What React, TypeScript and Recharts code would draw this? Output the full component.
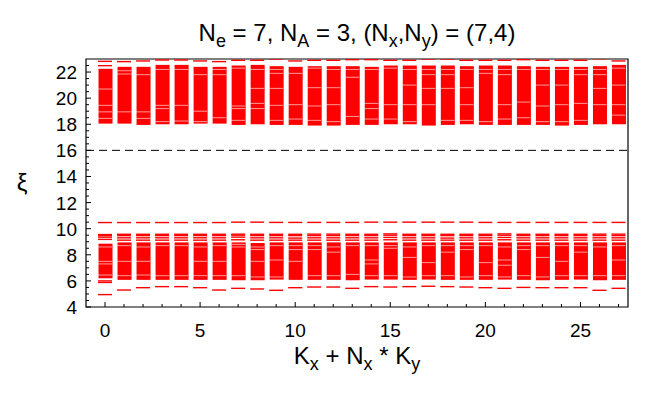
import React from 'react';
import { ComposedChart, Bar, Scatter, XAxis, YAxis, ReferenceLine, ReferenceArea } from 'recharts';

// momentum sectors K = Kx + Nx * Ky
const kValues = [0, 1, 2, 3, 4, 5, 6, 7, 8, 9, 10, 11, 12, 13, 14, 15, 16, 17, 18, 19, 20, 21, 22, 23, 24, 25, 26, 27];

// upper (dense) part of the spectrum
const upperLo = [18.05, 18.05, 17.95, 18.0, 18.0, 18.05, 18.05, 17.95, 18.0, 17.95, 17.95, 17.9, 17.9, 17.95, 17.95, 18.0, 18.0, 17.9, 17.95, 18.0, 17.95, 17.95, 17.95, 17.95, 17.9, 17.95, 18.0, 18.0];
const upperHi = [22.25, 22.4, 22.4, 22.55, 22.55, 22.4, 22.4, 22.5, 22.55, 22.45, 22.4, 22.45, 22.45, 22.45, 22.4, 22.5, 22.5, 22.5, 22.5, 22.45, 22.5, 22.5, 22.45, 22.4, 22.4, 22.4, 22.45, 22.55];
const upperTop = [22.82, 22.8, 22.85, 22.92, 22.92, 22.85, 22.8, 22.9, 22.9, 23.0, 22.85, 22.9, 22.9, 22.95, 22.95, 22.9, 22.9, 23.0, 23.0, 22.9, 22.9, 22.9, 22.95, 22.9, 22.9, 22.9, 23.02, 22.85];

// lower (low-lying) part
const isolated = [10.47, 10.47, 10.47, 10.47, 10.47, 10.47, 10.47, 10.5, 10.5, 10.48, 10.48, 10.48, 10.48, 10.48, 10.5, 10.5, 10.5, 10.5, 10.5, 10.5, 10.48, 10.48, 10.48, 10.48, 10.48, 10.48, 10.48, 10.48];
const capA = [9.55, 9.57, 9.57, 9.57, 9.57, 9.57, 9.57, 9.58, 9.57, 9.57, 9.57, 9.58, 9.58, 9.57, 9.57, 9.6, 9.57, 9.57, 9.57, 9.57, 9.57, 9.6, 9.57, 9.57, 9.57, 9.57, 9.58, 9.58];
const capB = [9.47, 9.47, 9.47, 9.47, 9.47, 9.47, 9.47, 9.5, 9.47, 9.47, 9.47, 9.47, 9.47, 9.47, 9.47, 9.5, 9.47, 9.47, 9.47, 9.47, 9.47, 9.5, 9.47, 9.47, 9.47, 9.47, 9.47, 9.47];
const capC = [9.35, 9.3, 9.3, 9.3, 9.3, 9.3, 9.3, 9.35, 9.3, 9.3, 9.28, 9.3, 9.3, 9.3, 9.3, 9.33, 9.3, 9.3, 9.28, 9.3, 9.3, 9.33, 9.3, 9.3, 9.3, 9.3, 9.3, 9.3];
const midLine = [9.18, 9.12, 9.12, 9.12, 9.12, 9.12, 9.12, 9.15, 9.12, 9.12, 9.12, 9.12, 9.12, 9.12, 9.12, 9.15, 9.12, 9.12, 9.12, 9.12, 9.12, 9.15, 9.12, 9.12, 9.12, 9.12, 9.12, 9.12];
const lowerHi = [8.85, 8.95, 8.95, 8.95, 8.95, 8.95, 8.95, 8.95, 8.9, 8.95, 8.95, 8.95, 8.95, 8.95, 8.95, 8.95, 8.95, 8.95, 8.95, 8.95, 8.95, 8.95, 8.95, 8.95, 8.95, 8.95, 8.95, 8.95];
const lowerLo = [6.2, 6.08, 6.08, 6.08, 6.08, 6.08, 6.08, 6.05, 6.05, 6.1, 6.08, 6.08, 6.08, 6.05, 6.1, 6.1, 6.08, 6.1, 6.08, 6.08, 6.08, 6.1, 6.08, 6.05, 6.08, 6.1, 6.05, 6.08];
const lowerMin = [4.95, 5.3, 5.48, 5.56, 5.56, 5.48, 5.3, 5.43, 5.38, 5.28, 5.48, 5.53, 5.53, 5.43, 5.56, 5.53, 5.56, 5.59, 5.56, 5.53, 5.48, 5.43, 5.5, 5.48, 5.48, 5.48, 5.28, 5.43];

// a few extra single levels of sector 0
const extraK = [0, 0, 0];
const extraE = [22.49, 6.0, 5.88];

// thin gaps visible inside the dense blocks, per sector
const gapsUpper = [
  [20.7, 19.45, 18.95, 18.45], [22.1, 21.85, 18.95], [21.8, 18.95, 18.45], [22.2, 19.45, 19.2, 18.2],
  [22.2, 19.45, 18.25], [21.8, 19.0, 18.2], [22.2, 21.8, 18.5], [22.3, 19.4, 19.2, 18.3],
  [22.2, 20.75, 19.6, 19.2], [22.2, 21.9, 20.75, 19.45, 18.3], [21.9, 19.5, 18.4], [22.3, 20.8, 19.4, 18.3],
  [22.2, 20.8, 19.5, 18.2], [22.2, 21.6, 18.6], [22.2, 19.6, 19.2, 18.4], [22.3, 19.5, 18.4],
  [22.2, 21.0, 19.5, 18.2], [22.2, 21.8, 20.75, 19.5], [22.2, 21.8, 20.75, 18.3], [22.2, 20.8, 19.5, 18.3],
  [22.2, 21.9, 18.2], [22.2, 21.8, 19.5, 18.4], [22.2, 19.7, 18.5], [22.2, 21.0, 19.4, 18.2],
  [22.2, 21.0, 19.5, 18.2], [22.2, 21.8, 19.6, 18.3], [22.2, 21.8, 20.75, 19.5], [22.3, 21.0, 19.5, 18.7],
];
const gapsLower = [
  [8.6, 7.5, 7.3, 6.45], [8.7, 7.5, 6.4], [8.6, 7.5, 6.45], [8.7, 6.4], [8.7, 6.4], [8.6, 7.5, 6.4], [8.7, 7.5, 6.4],
  [8.8, 8.6, 6.4], [8.6, 8.4, 7.5, 6.3], [8.7, 7.6, 6.3], [8.7, 8.4, 7.5], [8.7, 8.4, 6.4], [8.6, 8.2, 6.4], [8.7, 6.5],
  [8.7, 7.6, 7.3, 6.4], [8.7, 8.5, 6.4], [8.6, 7.8, 6.3], [8.7, 7.4, 6.4], [8.7, 8.2, 6.4], [8.7, 8.4, 6.3],
  [8.7, 7.4, 6.4], [8.6, 7.6, 7.2, 6.3], [8.7, 8.4, 6.4], [8.7, 7.8, 6.3], [8.7, 7.5, 6.4], [8.7, 8.2, 6.4],
  [8.6, 6.4], [8.7, 7.6, 6.4],
];

const xTicks = kValues;
const yTicks = [4, 4.5, 5, 5.5, 6, 6.5, 7, 7.5, 8, 8.5, 9, 9.5, 10, 10.5, 11, 11.5, 12, 12.5, 13, 13.5, 14, 14.5, 15, 15.5, 16, 16.5, 17, 17.5, 18, 18.5, 19, 19.5, 20, 20.5, 21, 21.5, 22, 22.5];

const bandRows = kValues.flatMap((k, i) => [
  { k, band: [upperLo[i], upperHi[i]] },
  { k, band: [lowerLo[i], lowerHi[i]] },
]);

const levelRows = [
  ...kValues.flatMap((k, i) =>
    [upperTop[i], isolated[i], capA[i], capB[i], capC[i], midLine[i], lowerMin[i]].map((e) => ({ k, e }))
  ),
  ...extraK.map((k, i) => ({ k, e: extraE[i] })),
];

const gapRows = kValues.flatMap((k, i) => [...gapsUpper[i], ...gapsLower[i]].map((e) => ({ k, e })));

const RED = '#ff0000';
const FONT = '"Liberation Sans", Arial, Helvetica, sans-serif';
const HALF = 7;

const Band = (props: any) => {
  const { x, y, width, height } = props;
  if (x == null || !height) return null;
  const cx = x + width / 2;
  return <rect x={cx - HALF} y={y} width={HALF * 2} height={height} fill={RED} />;
};

const Level = (props: any) => {
  const { cx, cy } = props;
  if (cx == null || cy == null) return null;
  return <line x1={cx - HALF} x2={cx + HALF} y1={cy} y2={cy} stroke={RED} strokeWidth={1.4} />;
};

const Gap = (props: any) => {
  const { cx, cy } = props;
  if (cx == null || cy == null) return null;
  return <line x1={cx - HALF} x2={cx + HALF} y1={cy} y2={cy} stroke="#fff" strokeOpacity={0.6} strokeWidth={1} />;
};

const XTick = (props: any) => {
  const { x, y, payload } = props;
  const major = payload.value % 5 === 0;
  return (
    <g>
      <line x1={x} x2={x} y1={y} y2={y - (major ? 5 : 3)} stroke="#000" />
      {major && (
        <text x={x} y={y + 30} textAnchor="middle" fontSize={19} fontFamily={FONT} fill="#000">
          {payload.value}
        </text>
      )}
    </g>
  );
};

const YTick = (props: any) => {
  const { x, y, payload } = props;
  const major = payload.value % 2 === 0;
  return (
    <g>
      <line x1={x} x2={x + (major ? 5 : 3)} y1={y} y2={y} stroke="#000" />
      {major && (
        <text x={x - 9} y={y + 7} textAnchor="end" fontSize={19} fontFamily={FONT} fill="#000">
          {payload.value}
        </text>
      )}
    </g>
  );
};

export default function App() {
  return (
    <div style={{ position: 'absolute', left: 0, top: 0, width: 664, height: 393, background: '#fff' }}>
      <ComposedChart
        width={664}
        height={393}
        data={bandRows}
        margin={{ top: 59, right: 36, bottom: 56, left: 0 }}
      >
        <XAxis
          dataKey="k"
          type="number"
          domain={[-1, 27.5]}
          allowDataOverflow
          ticks={xTicks}
          interval={0}
          tick={<XTick />}
          tickLine={false}
          axisLine={false}
          tickSize={0}
          tickMargin={0}
          height={30}
        />
        <YAxis
          type="number"
          domain={[4, 23]}
          allowDataOverflow
          ticks={yTicks}
          interval={0}
          tick={<YTick />}
          tickLine={false}
          axisLine={false}
          tickSize={0}
          tickMargin={0}
          width={86}
        />
        <Bar dataKey="band" fill={RED} barSize={14} shape={<Band />} isAnimationActive={false} />
        <Scatter data={gapRows} dataKey="e" shape={<Gap />} isAnimationActive={false} />
        <Scatter data={levelRows} dataKey="e" shape={<Level />} isAnimationActive={false} />
        <ReferenceLine y={16} stroke="#000" strokeDasharray="8 5" />
        <ReferenceArea x1={-1} x2={27.5} y1={4} y2={23} fill="none" stroke="#000" strokeWidth={1.2} />
      </ComposedChart>
      <svg
        width={664}
        height={393}
        style={{ position: 'absolute', left: 0, top: 0, pointerEvents: 'none' }}
        fontFamily={FONT}
      >
        <text x={357} y={41} textAnchor="middle" fontSize={24} fill="#000">
          N<tspan dy={6} fontSize={18}>e</tspan>
          <tspan dy={-6}> = 7, N</tspan>
          <tspan dy={6} fontSize={18}>A</tspan>
          <tspan dy={-6}> = 3, (N</tspan>
          <tspan dy={6} fontSize={18}>x</tspan>
          <tspan dy={-6}>,N</tspan>
          <tspan dy={6} fontSize={18}>y</tspan>
          <tspan dy={-6}>) = (7,4)</tspan>
        </text>
        <text x={357} y={364} textAnchor="middle" fontSize={24} fill="#000">
          K<tspan dy={6} fontSize={18}>x</tspan>
          <tspan dy={-6}> + N</tspan>
          <tspan dy={6} fontSize={18}>x</tspan>
          <tspan dy={-6}> * K</tspan>
          <tspan dy={6} fontSize={18}>y</tspan>
        </text>
        <text x={22} y={191} textAnchor="middle" fontSize={24} fill="#000">
          ξ
        </text>
      </svg>
    </div>
  );
}
